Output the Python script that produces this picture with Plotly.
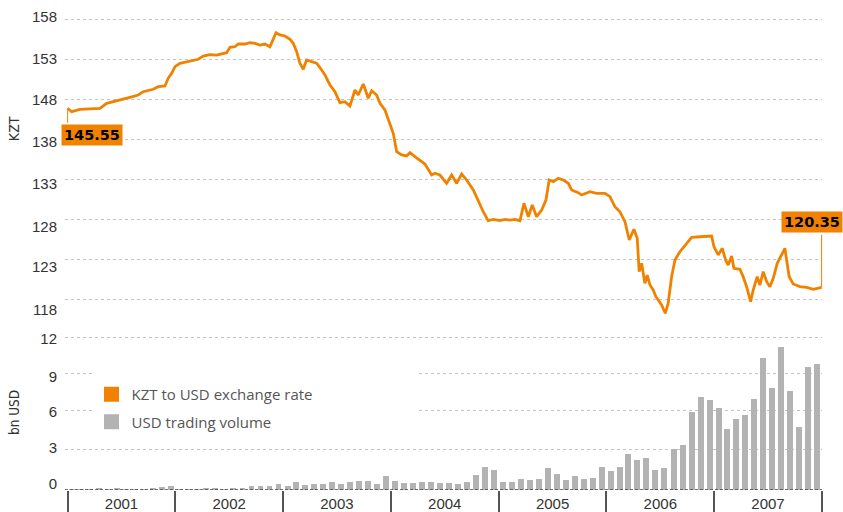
import numpy as np
import pandas as pd
import plotly.graph_objects as go

ORANGE = "#F08200"
BAR_GRAY = "#B3B3B3"
GRID = "#C4C4C4"
TXT = "#333333"

# ---- KZT per USD, read at turning points (time as decimal year) ----
rate_time = [
    2001.000, 2001.037, 2001.114, 2001.207, 2001.300, 2001.362, 2001.423, 2001.501, 2001.578, 2001.655,
    2001.701, 2001.794, 2001.841, 2001.903, 2001.933, 2001.965, 2001.996, 2002.042, 2002.104, 2002.165,
    2002.212, 2002.258, 2002.320, 2002.382, 2002.429, 2002.475, 2002.506, 2002.552, 2002.583, 2002.645,
    2002.691, 2002.738, 2002.784, 2002.831, 2002.877, 2002.908, 2002.933, 2002.970, 2003.016, 2003.063,
    2003.093, 2003.125, 2003.155, 2003.186, 2003.217, 2003.264, 2003.310, 2003.357, 2003.387, 2003.434,
    2003.480, 2003.526, 2003.573, 2003.619, 2003.666, 2003.696, 2003.743, 2003.789, 2003.821, 2003.867,
    2003.898, 2003.944, 2003.975, 2004.021, 2004.053, 2004.099, 2004.145, 2004.176, 2004.222, 2004.269,
    2004.315, 2004.377, 2004.408, 2004.454, 2004.516, 2004.563, 2004.609, 2004.656, 2004.702, 2004.764,
    2004.810, 2004.856, 2004.902, 2004.949, 2005.011, 2005.058, 2005.104, 2005.150, 2005.197, 2005.234,
    2005.274, 2005.311, 2005.351, 2005.398, 2005.438, 2005.468, 2005.506, 2005.552, 2005.598, 2005.645,
    2005.676, 2005.737, 2005.769, 2005.846, 2005.908, 2005.985, 2006.032, 2006.078, 2006.124, 2006.171,
    2006.211, 2006.254, 2006.285, 2006.303, 2006.326, 2006.356, 2006.378, 2006.403, 2006.433, 2006.458,
    2006.480, 2006.511, 2006.545, 2006.572, 2006.604, 2006.635, 2006.681, 2006.743, 2006.790, 2006.867,
    2006.975, 2006.997, 2007.036, 2007.074, 2007.105, 2007.129, 2007.161, 2007.182, 2007.238, 2007.268,
    2007.300, 2007.337, 2007.361, 2007.398, 2007.423, 2007.454, 2007.486, 2007.516, 2007.547, 2007.584,
    2007.625, 2007.655, 2007.671, 2007.695, 2007.732, 2007.794, 2007.857, 2007.918, 2007.996,
]
rate_kzt = [
    145.55, 145.07, 145.41, 145.49, 145.55, 146.25, 146.48, 146.72, 147.10, 147.42,
    147.89, 148.23, 148.59, 148.69, 149.77, 150.48, 151.41, 151.89, 152.07, 152.25,
    152.45, 152.91, 153.10, 153.05, 153.19, 153.38, 154.14, 154.22, 154.60, 154.60,
    154.79, 154.70, 154.46, 154.60, 154.22, 155.41, 156.19, 155.87, 155.73, 155.26,
    154.70, 153.52, 151.89, 151.04, 152.35, 152.11, 151.89, 150.94, 150.24, 148.83,
    147.89, 146.34, 146.48, 145.87, 148.13, 147.42, 148.97, 146.96, 148.03, 147.42,
    146.25, 145.31, 143.90, 142.03, 139.44, 138.98, 138.84, 139.30, 138.74, 138.27,
    137.71, 136.16, 136.40, 136.16, 134.99, 136.16, 134.99, 136.30, 135.46, 134.05,
    132.40, 130.99, 129.73, 129.92, 129.73, 129.92, 129.82, 129.92, 129.73, 132.18,
    130.29, 131.94, 130.29, 131.23, 132.64, 135.46, 135.22, 135.70, 135.46, 134.99,
    134.05, 133.67, 133.34, 133.81, 133.58, 133.58, 133.11, 131.70, 130.99, 129.59,
    127.01, 128.52, 127.25, 122.55, 123.73, 120.91, 122.08, 120.67, 119.97, 119.03,
    118.56, 117.86, 116.69, 118.10, 121.84, 124.19, 125.36, 126.55, 127.39, 127.47,
    127.57, 126.07, 124.90, 125.84, 124.19, 123.49, 124.76, 123.03, 122.88, 121.84,
    120.44, 118.32, 119.97, 121.84, 120.67, 122.55, 121.14, 120.44, 121.62, 123.73,
    125.04, 125.84, 124.19, 121.84, 120.82, 120.44, 120.35, 120.07, 120.35,
]

# ---- monthly USD trading volume, bn USD ----
vol_2001 = [0.08, 0.08, 0.08, 0.15, 0.10, 0.15, 0.10, 0.10, 0.10, 0.18, 0.20, 0.30]
vol_2002 = [0.10, 0.10, 0.12, 0.15, 0.15, 0.12, 0.15, 0.15, 0.28, 0.32, 0.32, 0.45]
vol_2003 = [0.29, 0.60, 0.37, 0.45, 0.45, 0.60, 0.45, 0.60, 0.68, 0.68, 0.45, 1.08]
vol_2004 = [0.68, 0.53, 0.53, 0.60, 0.60, 0.53, 0.53, 0.45, 0.60, 1.16, 1.79, 1.55]
vol_2005 = [0.60, 0.60, 0.84, 0.76, 0.84, 1.71, 1.24, 0.82, 1.13, 0.90, 0.97, 1.85]
vol_2006 = [1.52, 1.85, 2.84, 2.37, 2.53, 1.58, 1.74, 3.24, 3.55, 6.16, 7.34, 7.10]
vol_2007 = [6.45, 4.82, 5.60, 5.92, 7.18, 10.42, 8.05, 11.29, 7.82, 4.97, 9.71, 9.95]

# ---- axis tick labels (as printed) ----
rate_tick_text = ["158", "153", "148", "138", "133", "128", "123", "118"]
rate_tick_pos = [158.45, 152.59, 146.72, 140.85, 134.89, 128.88, 123.25, 117.15]
rate_grid = [158.04, 152.43, 146.82, 141.19, 135.55, 129.92, 124.29, 118.66]
vol_tick_text = ["0", "3", "6", "9", "12"]
vol_tick_pos = [0.47, 3.34, 6.18, 8.94, 11.97]
vol_grid = [3.16, 6.24, 9.16, 12.0]

legend_names = ["KZT to USD exchange rate", "USD trading volume"]

# ---- build ----
rate_dates = pd.Timestamp("2001-01-01") + pd.to_timedelta(
    (np.array(rate_time) - 2001.0) * 365.25, unit="D")
volumes = vol_2001 + vol_2002 + vol_2003 + vol_2004 + vol_2005 + vol_2006 + vol_2007
months = pd.date_range("2001-01-01", periods=len(volumes), freq="MS")

X_RANGE = ["2000-12-23", "2008-01-01 12:00"]
TICK_FONT = dict(family="Liberation Sans, Arial, sans-serif", size=15, color=TXT)
NARROW = "Liberation Sans Narrow, DejaVu Sans Condensed, Arial Narrow, sans-serif"

fig = go.Figure()
fig.add_trace(go.Scatter(x=rate_dates, y=rate_kzt, mode="lines",
                         line=dict(color=ORANGE, width=2.8), showlegend=False,
                         xaxis="x", yaxis="y"))
fig.add_trace(go.Bar(x=months, y=volumes, marker=dict(color=BAR_GRAY, line=dict(width=0)),
                     width=20 * 86400000, xperiod="M1", xperiodalignment="middle",
                     showlegend=False, xaxis="x2", yaxis="y2"))
# legend entries (square swatches)
for i, (nm, col) in enumerate(zip(legend_names, [ORANGE, BAR_GRAY])):
    fig.add_trace(go.Scatter(x=[None], y=[None], mode="markers", name=nm,
                             marker=dict(symbol="square", size=15, color=col),
                             legendgroup=f"g{i}", xaxis="x2", yaxis="y2"))

fig.update_layout(
    width=843, height=512,
    margin=dict(l=65, r=21, t=12, b=22, autoexpand=False),
    paper_bgcolor="white", plot_bgcolor="white",
    bargap=0,
    xaxis=dict(domain=[0, 1], anchor="y", type="date", range=X_RANGE,
               showticklabels=False, showgrid=False, zeroline=False, showline=False, ticks=""),
    yaxis=dict(domain=[0.3598, 1.0], anchor="x", range=[116.028, 159.107],
               tickmode="array", tickvals=rate_tick_pos, ticktext=rate_tick_text,
               showgrid=False, zeroline=False, showline=False, ticks="",
               ticklabelstandoff=7, tickfont=TICK_FONT,
               minor=dict(tickmode="array", tickvals=rate_grid, showgrid=True,
                          gridcolor=GRID, griddash="dot", gridwidth=1, ticks="")),
    xaxis2=dict(domain=[0, 1], anchor="y2", type="date", range=X_RANGE,
                tick0="2001-01-01", dtick="M12", tickformat="%Y", ticklabelmode="period",
                ticks="outside", ticklen=22, tickwidth=1.5, tickcolor="#555555",
                ticklabelstandoff=-22, tickfont=TICK_FONT, automargin=False,
                showgrid=False, zeroline=False, showline=False),
    yaxis2=dict(domain=[0, 0.3285], anchor="x2", range=[0, 12.39],
                tickmode="array", tickvals=vol_tick_pos, ticktext=vol_tick_text,
                showgrid=False, zeroline=False, showline=False, ticks="",
                ticklabelstandoff=7, tickfont=TICK_FONT,
                minor=dict(tickmode="array", tickvals=vol_grid, showgrid=True,
                           gridcolor=GRID, griddash="dot", gridwidth=1, ticks="")),
    legend=dict(x=0.035, xanchor="left", y=0.2343, yanchor="top",
                bgcolor="rgba(0,0,0,0)", borderwidth=0, tracegroupgap=5,
                font=dict(family="Open Sans, Lato, sans-serif", size=15, color="#555555"),
                traceorder="grouped"),
    shapes=[
        dict(type="rect", xref="x2 domain", yref="y2 domain", x0=0.037, x1=0.4676,
             y0=0.369, y1=0.79, fillcolor="white", line=dict(width=0), layer="above"),
        dict(type="line", xref="x2 domain", yref="y2", x0=0, x1=1, y0=0, y1=0,
             line=dict(color="#444444", width=1.5, dash="3px,2px"), layer="above"),
    ],
    annotations=[
        dict(text="KZT", textangle=-90, xref="paper", yref="paper", x=-0.0674, y=0.757,
             xanchor="center", yanchor="middle",
             showarrow=False, font=dict(family=NARROW, size=14, color=TXT)),
        dict(text="bn USD", textangle=-90, xref="paper", yref="paper", x=-0.0674, y=0.163,
             xanchor="center", yanchor="middle",
             showarrow=False, font=dict(family=NARROW, size=13.5, color=TXT)),
        # leader lines
        dict(x=rate_dates[0], y=rate_kzt[0], xref="x", yref="y", text="", showarrow=True,
             arrowhead=0, arrowwidth=1, arrowcolor=ORANGE, ax=0, ay=16),
        dict(x=rate_dates[-1], y=rate_kzt[-1], xref="x", yref="y", text="", showarrow=True,
             arrowhead=0, arrowwidth=1, arrowcolor=ORANGE, ax=0, ay=-54),
        # value boxes
        dict(x=rate_dates[0], y=rate_kzt[0], xref="x", yref="y", text=f"{rate_kzt[0]:.2f}",
             showarrow=False, xanchor="left", yanchor="top", xshift=-6.7, yshift=-15.7,
             bgcolor=ORANGE, borderpad=2,
             font=dict(family="DejaVu Sans, Verdana, sans-serif", size=14.5, color="#000000",
                       weight="bold")),
        dict(x=rate_dates[-1], y=rate_kzt[-1], xref="x", yref="y", text=f"{rate_kzt[-1]:.2f}",
             showarrow=False, xanchor="right", yanchor="bottom", xshift=21.3, yshift=54.3,
             bgcolor=ORANGE, borderpad=2,
             font=dict(family="DejaVu Sans, Verdana, sans-serif", size=14.5, color="#000000",
                       weight="bold")),
    ],
)

fig.write_html("out.html", config={"displayModeBar": False},
               post_script="document.body.style.margin='0';document.body.style.padding='0';"
                           "document.body.style.overflow='hidden';")
